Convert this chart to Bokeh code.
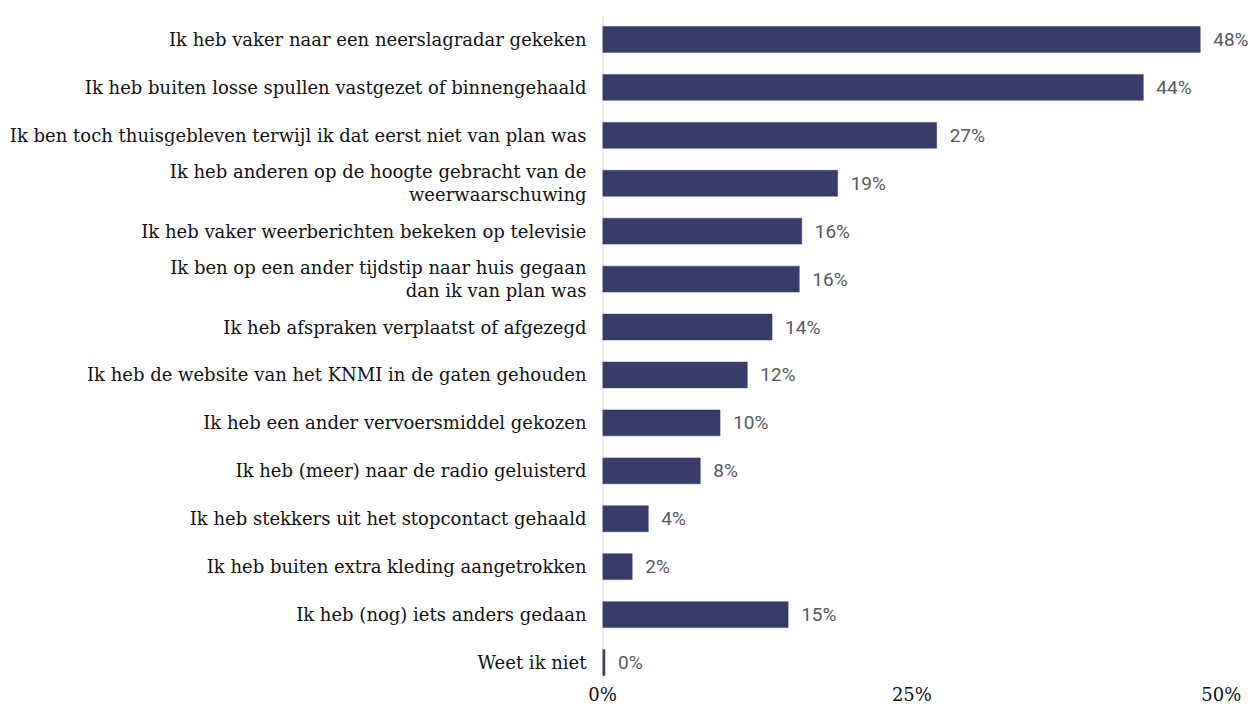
from bokeh.plotting import figure
from bokeh.models import FactorRange, Range1d, FixedTicker, Span
from bokeh.core.properties import value
from bokeh.embed import file_html
from bokeh.resources import INLINE

categories = [
    "Ik heb vaker naar een neerslagradar gekeken",
    "Ik heb buiten losse spullen vastgezet of binnengehaald",
    "Ik ben toch thuisgebleven terwijl ik dat eerst niet van plan was",
    "Ik heb anderen op de hoogte gebracht van de\nweerwaarschuwing",
    "Ik heb vaker weerberichten bekeken op televisie",
    "Ik ben op een ander tijdstip naar huis gegaan\ndan ik van plan was",
    "Ik heb afspraken verplaatst of afgezegd",
    "Ik heb de website van het KNMI in de gaten gehouden",
    "Ik heb een ander vervoersmiddel gekozen",
    "Ik heb (meer) naar de radio geluisterd",
    "Ik heb stekkers uit het stopcontact gehaald",
    "Ik heb buiten extra kleding aangetrokken",
    "Ik heb (nog) iets anders gedaan",
    "Weet ik niet",
]
values = [48.3, 43.7, 27.0, 19.0, 16.1, 15.9, 13.7, 11.7, 9.5, 7.9, 3.7, 2.4, 15.0, 0.2]
value_labels = ["48%", "44%", "27%", "19%", "16%", "16%", "14%", "12%", "10%", "8%", "4%", "2%", "15%", "0%"]
x_ticks = [0, 25, 50]
x_tick_labels = {0: "0%", 25: "25%", 50: "50%"}

BAR = "#393c69"

p = figure(
    width=1249, height=707,
    y_range=FactorRange(factors=list(reversed(categories)), range_padding=0),
    x_range=Range1d(0, 52.2),
    output_backend="svg", toolbar_location=None,
    min_border_left=602, min_border_right=1, min_border_top=15, min_border_bottom=21,
    outline_line_color=None,
)
p.background_fill_color = "white"
p.border_fill_color = "white"

p.add_layout(Span(location=0, dimension="height", line_color="#d9d9d9", line_width=2, level="underlay"))

p.hbar(y=categories, right=values, left=0, height=0.54, fill_color=BAR, line_color=BAR, line_width=0.5)
p.text(x=values, y=categories, text=value_labels, x_offset=13, text_baseline="middle", text_align="left",
       text_font=value("Roboto"), text_font_size="19px", text_color="#595959")

p.xgrid.grid_line_color = None
p.ygrid.grid_line_color = None

p.xaxis.ticker = FixedTicker(ticks=x_ticks)
p.xaxis.major_label_overrides = x_tick_labels
p.xaxis.axis_line_color = None
p.xaxis.major_tick_line_color = None
p.xaxis.minor_tick_line_color = None
p.xaxis.major_tick_out = 0
p.xaxis.major_tick_in = 0
p.xaxis.major_label_text_font = "DejaVu Serif"
p.xaxis.major_label_text_font_size = "18px"
p.xaxis.major_label_text_color = "#111111"
p.xaxis.major_label_standoff = -3

p.yaxis.axis_line_color = None
p.yaxis.major_tick_line_color = None
p.yaxis.minor_tick_line_color = None
p.yaxis.major_tick_out = 0
p.yaxis.major_tick_in = 0
p.yaxis.major_label_text_font = "DejaVu Serif"
p.yaxis.major_label_text_font_size = "18px"
p.yaxis.major_label_text_line_height = 1.1
p.yaxis.major_label_text_color = "#111111"
p.yaxis.major_label_standoff = 16

open("out.html", "w").write(file_html(p, INLINE))
